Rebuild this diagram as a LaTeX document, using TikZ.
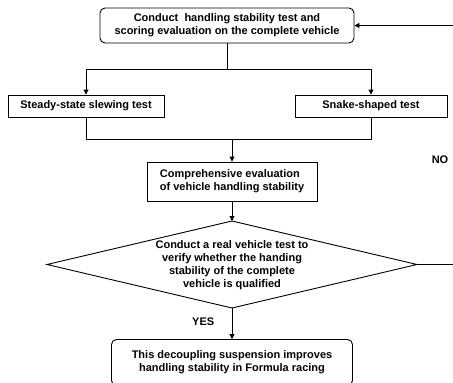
\documentclass[tikz,border=0pt]{standalone}
\usepackage{fontspec}
\setmainfont{Liberation Sans}
\usetikzlibrary{arrows.meta}
\tikzset{
    box/.style={draw, line width=0.9pt, inner sep=0pt, font=\bfseries\fontsize{11}{13.2}\selectfont, align=center},
    roundbox/.style={box, rounded corners=5pt},
    link/.style={line width=0.9pt},
    flow/.style={link, -{Triangle[length=5pt,width=5pt]}}
}
\begin{document}
\begin{tikzpicture}[x=1pt,y=-1pt]
    \useasboundingbox (0,0) rectangle (453,383);
    %% boxes
    \node[roundbox, minimum width=254pt, minimum height=35pt] (test) at (227,25.5) {Conduct\ \ handling stability test and\\scoring evaluation on the complete vehicle};
    \node[box, minimum width=156pt, minimum height=22pt] (steady) at (86,106) {Steady-state slewing test};
    \node[box, minimum width=152pt, minimum height=22pt] (snake) at (371,106) {Snake-shaped test};
    \node[box, minimum width=170pt, minimum height=39pt, align=left] (comp) at (232,181.5) {Comprehensive evaluation\\of vehicle handling stability};
    \coordinate (dtop) at (232,221);
    \coordinate (dleft) at (47,264.5);
    \coordinate (dright) at (417,264.5);
    \coordinate (dbot) at (232,308);
    \draw[link] (dtop) -- (dright) -- (dbot) -- (dleft) -- cycle;
    \node[box, draw=none] (check) at (232,265) {Conduct a real vehicle test to\\verify whether the handing\\stability of the complete\\vehicle is qualified};
    \node[roundbox, minimum width=241pt, minimum height=46pt, text depth=0pt] (result) at (232,362.5) {};
    \node[box, draw=none] (resulttxt) at (232,362) {This decoupling suspension improves\\handling stability in Formula racing};
    %% split to the two tests
    \coordinate (split) at (227,69);
    \draw[link] (test.south) -- (split);
    \draw[flow] (split) -| (steady.north);
    \draw[flow] (split) -| (snake.north);
    %% join of the two tests
    \coordinate (join) at (232,139);
    \draw[link] (steady.south) |- (join);
    \draw[link] (snake.south) |- (join);
    \draw[flow] (join) -- (comp.north);
    \draw[flow] (comp.south) -- (dtop);
    \draw[flow] (dbot) -- (result.north) node[pos=0.45, left=14pt, font=\bfseries\fontsize{11}{13}\selectfont] (yes) {YES};
    %% back loop
    \coordinate (back) at (458,264.5);
    \draw[flow] (dright) -- (back) -- (back |- test.east) -- (test.east);
    \node[font=\bfseries\fontsize{11}{13}\selectfont] (no) at (440,160) {NO};
\end{tikzpicture}
\end{document}
